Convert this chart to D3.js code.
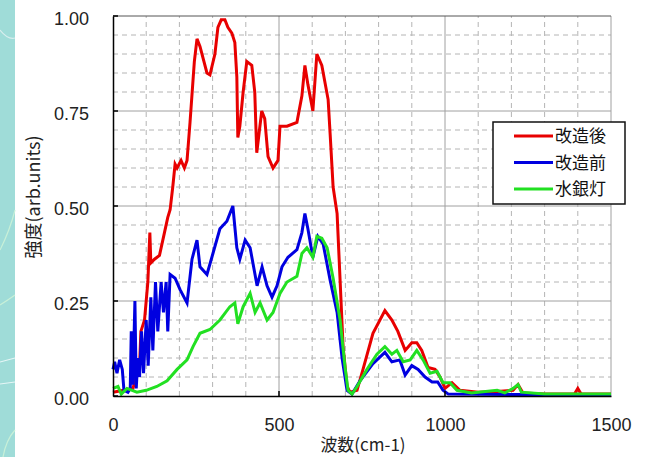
<!DOCTYPE html>
<html>
<head>
<meta charset="utf-8">
<script src="https://cdn.jsdelivr.net/npm/d3@7"></script>
<style>
  body { margin: 0; background: #fff; }
  svg { display: block; }
</style>
</head>
<body>
<script>
"use strict";

// values: wavenumber (cm-1) and intensity (arb. units)
var redWn  = [0, 60, 80, 84, 95, 105, 111, 114, 125, 140, 155, 165, 172, 180, 187, 193, 205, 215, 223, 232, 245, 253, 262, 283, 292, 307, 316, 326, 337, 346, 358, 367, 373, 376, 382, 392, 403, 418, 427, 433, 448, 457, 467, 482, 497, 503, 524, 554, 569, 578, 587, 602, 614, 629, 648, 654, 663, 675, 684, 693, 705, 714, 735, 753, 783, 819, 840, 858, 880, 900, 915, 930, 949, 970, 985, 1000, 1021, 1045, 1100, 1157, 1205, 1220, 1235, 1300, 1390, 1400, 1410, 1500];
var redVal = [0.01, 0.02, 0.08, 0.17, 0.20, 0.30, 0.43, 0.35, 0.36, 0.37, 0.43, 0.47, 0.49, 0.55, 0.61, 0.60, 0.62, 0.60, 0.62, 0.72, 0.88, 0.94, 0.92, 0.85, 0.845, 0.90, 0.97, 0.99, 0.99, 0.97, 0.955, 0.93, 0.84, 0.68, 0.71, 0.80, 0.88, 0.87, 0.80, 0.64, 0.75, 0.73, 0.63, 0.60, 0.62, 0.71, 0.71, 0.72, 0.79, 0.87, 0.82, 0.75, 0.90, 0.87, 0.78, 0.69, 0.55, 0.48, 0.305, 0.13, 0.025, 0.01, 0.015, 0.07, 0.165, 0.225, 0.20, 0.17, 0.12, 0.14, 0.14, 0.12, 0.075, 0.07, 0.05, 0.02, 0.035, 0.015, 0.01, 0.012, 0.015, 0.03, 0.008, 0.005, 0.005, 0.02, 0.005, 0.005];

var blueWn  = [0, 5, 12, 20, 28, 33, 45, 52, 55, 60, 66, 70, 75, 80, 86, 92, 100, 106, 114, 120, 128, 135, 145, 152, 160, 165, 172, 187, 202, 223, 238, 253, 262, 283, 301, 322, 343, 361, 373, 382, 398, 413, 434, 449, 464, 479, 494, 509, 527, 554, 569, 578, 587, 602, 617, 633, 654, 675, 690, 705, 720, 744, 783, 819, 840, 864, 880, 900, 919, 940, 961, 978, 994, 1010, 1500];
var blueVal = [0.07, 0.09, 0.06, 0.095, 0.07, 0.015, 0.01, 0.02, 0.17, 0.03, 0.25, 0.02, 0.10, 0.05, 0.17, 0.06, 0.20, 0.08, 0.26, 0.12, 0.30, 0.17, 0.30, 0.22, 0.30, 0.17, 0.32, 0.31, 0.28, 0.245, 0.36, 0.41, 0.34, 0.32, 0.375, 0.44, 0.46, 0.50, 0.39, 0.36, 0.41, 0.39, 0.29, 0.34, 0.29, 0.26, 0.29, 0.34, 0.365, 0.385, 0.43, 0.48, 0.44, 0.365, 0.42, 0.40, 0.305, 0.22, 0.10, 0.015, 0.005, 0.04, 0.085, 0.115, 0.09, 0.095, 0.055, 0.08, 0.07, 0.05, 0.037, 0.037, 0.015, 0.005, 0.003];

var greenWn  = [0, 15, 25, 42, 72, 100, 132, 163, 193, 223, 241, 262, 292, 322, 352, 367, 376, 392, 413, 428, 443, 464, 482, 503, 524, 554, 569, 584, 602, 614, 629, 645, 663, 684, 699, 708, 720, 735, 765, 795, 819, 840, 855, 874, 895, 915, 934, 955, 976, 994, 1015, 1036, 1080, 1157, 1180, 1205, 1220, 1230, 1300, 1500];
var greenVal = [0.02, 0.025, 0.005, 0.02, 0.01, 0.015, 0.025, 0.04, 0.07, 0.095, 0.13, 0.165, 0.175, 0.20, 0.235, 0.245, 0.19, 0.235, 0.27, 0.22, 0.245, 0.20, 0.22, 0.27, 0.30, 0.315, 0.375, 0.39, 0.365, 0.42, 0.415, 0.39, 0.31, 0.20, 0.075, 0.015, 0.005, 0.025, 0.07, 0.11, 0.13, 0.11, 0.12, 0.09, 0.095, 0.12, 0.095, 0.06, 0.065, 0.035, 0.035, 0.015, 0.008, 0.015, 0.008, 0.02, 0.03, 0.01, 0.005, 0.005];

var seriesNames  = ["改造後", "改造前", "水銀灯"];
var seriesColors = ["#e80000", "#0000e0", "#22e022"];
var xTicks = [0, 500, 1000, 1500];
var yTicks = [0, 0.25, 0.5, 0.75, 1];

var W = 646, H = 457;
var svg = d3.select("body").append("svg")
    .attr("width", W)
    .attr("height", H);

// cyan strip at the left edge of the slide
svg.append("rect").attr("x", 0).attr("y", 0).attr("width", 15).attr("height", H).attr("fill", "#9fdcd8");
var strip = svg.append("g").attr("fill", "none").attr("stroke-width", 1.2);
strip.append("path").attr("d", "M0,30 Q8,40 15,38").attr("stroke", "#d8eeee");
strip.append("path").attr("d", "M0,250 Q10,230 15,210").attr("stroke", "#c8f0d8");
strip.append("path").attr("d", "M0,305 Q8,300 15,295").attr("stroke", "#c8f0d8");
strip.append("path").attr("d", "M0,362 L15,358").attr("stroke", "#e6f6f6");
strip.append("path").attr("d", "M0,384 L15,382").attr("stroke", "#e6f6f6");
strip.append("path").attr("d", "M3,457 Q6,440 15,430").attr("stroke", "#c8f0d8");

var x = d3.scaleLinear().domain([0, 1500]).range([113, 611]);
var y = d3.scaleLinear().domain([0, 1]).range([396, 16]);

// grid
var grid = svg.append("g");
grid.selectAll(".vminor").data(d3.range(100, 1500, 100).filter(function(d) { return d % 500 !== 0; }))
    .enter().append("line")
    .attr("x1", function(d) { return x(d); }).attr("x2", function(d) { return x(d); })
    .attr("y1", y(0)).attr("y2", y(1))
    .attr("stroke", "#b4b4b4").attr("stroke-dasharray", "5,4");
grid.selectAll(".hminor").data(d3.range(1, 20).filter(function(d) { return d % 5 !== 0; }))
    .enter().append("line")
    .attr("x1", x(0)).attr("x2", x(1500))
    .attr("y1", function(d) { return y(d * 0.05); }).attr("y2", function(d) { return y(d * 0.05); })
    .attr("stroke", "#b4b4b4").attr("stroke-dasharray", "5,4");
grid.selectAll(".vmajor").data([500, 1000, 1500])
    .enter().append("line")
    .attr("x1", function(d) { return x(d); }).attr("x2", function(d) { return x(d); })
    .attr("y1", y(0)).attr("y2", y(1))
    .attr("stroke", "#a0a0a0");
grid.selectAll(".hmajor").data([0.25, 0.5, 0.75])
    .enter().append("line")
    .attr("x1", x(0)).attr("x2", x(1500))
    .attr("y1", function(d) { return y(d); }).attr("y2", function(d) { return y(d); })
    .attr("stroke", "#a0a0a0");
grid.append("line")
    .attr("x1", x(0)).attr("x2", x(1500)).attr("y1", y(1)).attr("y2", y(1))
    .attr("stroke", "#555");

// series
var line = d3.line()
    .x(function(d) { return x(d[0]); })
    .y(function(d) { return y(d[1]); });
var series = [d3.zip(redWn, redVal), d3.zip(blueWn, blueVal), d3.zip(greenWn, greenVal)];
series.forEach(function(s, i) {
    svg.append("path")
        .datum(s)
        .attr("d", line)
        .attr("fill", "none")
        .attr("stroke", seriesColors[i])
        .attr("stroke-width", 3)
        .attr("stroke-linejoin", "miter");
});

// axes
var yAxis = svg.append("g")
    .attr("transform", "translate(" + x(0) + ",0)")
    .call(d3.axisLeft(y).tickValues(yTicks).tickFormat(d3.format(".2f")).tickSize(0).tickPadding(24));
yAxis.select(".domain").attr("stroke", "#000").attr("stroke-width", 1.5);
yAxis.selectAll("text")
    .attr("font-family", "Liberation Sans, Arial, sans-serif")
    .attr("font-size", 18).attr("fill", "#222").attr("dy", "0.45em");
svg.append("g").selectAll("line").data(yTicks)
    .enter().append("line")
    .attr("x1", x(0)).attr("x2", x(0) + 5)
    .attr("y1", function(d) { return y(d); }).attr("y2", function(d) { return y(d); })
    .attr("stroke", "#000").attr("stroke-width", 1.5);

var xAxis = svg.append("g")
    .attr("transform", "translate(0," + y(0) + ")")
    .call(d3.axisBottom(x).tickValues(xTicks).tickFormat(d3.format("d")).tickSize(0).tickPadding(22));
xAxis.select(".domain").attr("stroke", "#000").attr("stroke-width", 1.5);
xAxis.selectAll("text")
    .attr("font-family", "Liberation Sans, Arial, sans-serif")
    .attr("font-size", 18).attr("fill", "#222");
svg.append("g").selectAll("line").data([500, 1000])
    .enter().append("line")
    .attr("x1", function(d) { return x(d); }).attr("x2", function(d) { return x(d); })
    .attr("y1", y(0)).attr("y2", y(0) - 5)
    .attr("stroke", "#000").attr("stroke-width", 1.5);

// axis titles
svg.append("text")
    .attr("x", 363).attr("y", 451)
    .attr("text-anchor", "middle")
    .attr("font-family", "Noto Sans CJK JP, sans-serif")
    .attr("font-size", 17).attr("fill", "#222")
    .text("波数(cm-1)");
svg.append("text")
    .attr("transform", "translate(40,197) rotate(-90)")
    .attr("text-anchor", "middle")
    .attr("font-family", "Noto Sans CJK JP, sans-serif")
    .attr("font-size", 18).attr("fill", "#222")
    .text("強度(arb.units)");

// legend
var legend = svg.append("g");
legend.append("rect")
    .attr("x", 493).attr("y", 122).attr("width", 132).attr("height", 82)
    .attr("fill", "#fff").attr("stroke", "#111").attr("stroke-width", 1.5);
seriesNames.forEach(function(name, i) {
    var ly = 136 + i * 26.5;
    legend.append("line")
        .attr("x1", 514).attr("x2", 553).attr("y1", ly).attr("y2", ly)
        .attr("stroke", seriesColors[i]).attr("stroke-width", 3);
    legend.append("text")
        .attr("x", 555).attr("y", ly + 6)
        .attr("font-family", "Noto Sans CJK JP, sans-serif")
        .attr("font-size", 17).attr("fill", "#111")
        .text(name);
});
</script>
</body>
</html>
